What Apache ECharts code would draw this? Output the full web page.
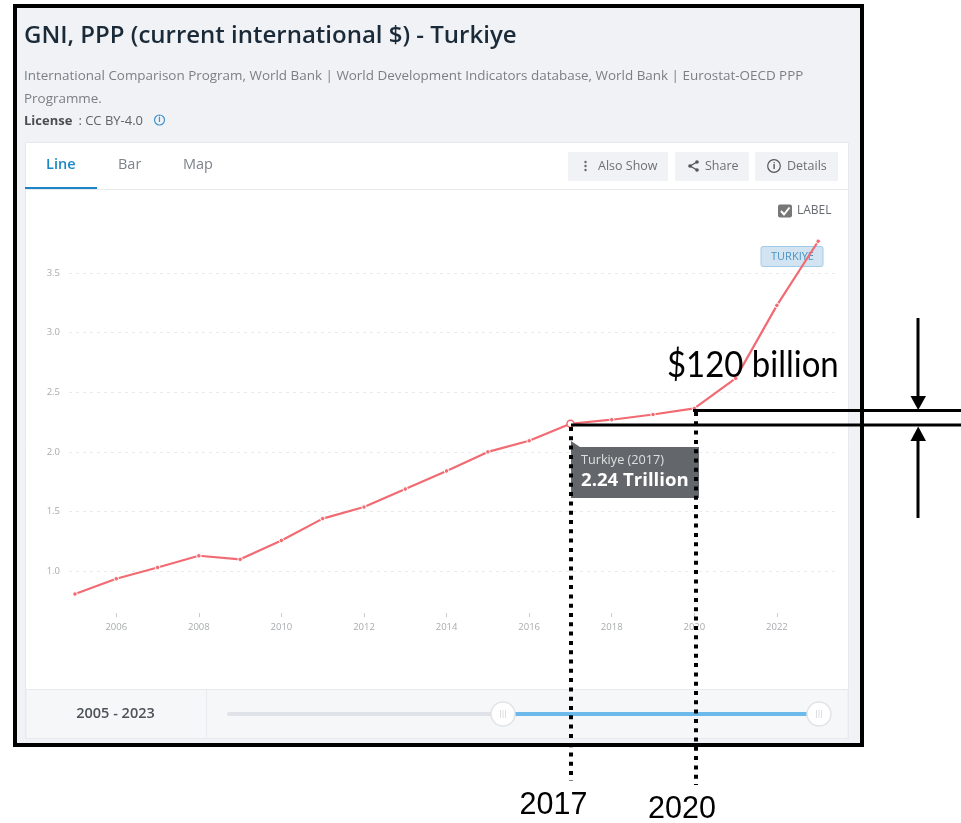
<!DOCTYPE html>
<html>
<head>
<meta charset="utf-8">
<title>GNI, PPP - Turkiye</title>
<style>html,body{margin:0;padding:0;background:#fff}#c{width:961px;height:823px}</style>
<script src="https://cdn.jsdelivr.net/npm/echarts@6/dist/echarts.min.js"></script>
</head>
<body>
<div id="c"></div>
<script>
const years = [2005,2006,2007,2008,2009,2010,2011,2012,2013,2014,2015,2016,2017,2018,2019,2020,2021,2022,2023];
const gniTrillion = [0.807,0.935,1.03,1.128,1.098,1.257,1.44,1.537,1.688,1.84,2.0,2.093,2.236,2.27,2.314,2.365,2.617,3.23,3.768];
const xTickYears = [2006,2008,2010,2012,2014,2016,2018,2020,2022];
const highlightYear = 2017;
const titleText = 'GNI, PPP (current international $) - Turkiye';
const sourceLine1 = 'International Comparison Program, World Bank | World Development Indicators database, World Bank | Eurostat-OECD PPP';
const sourceLine2 = 'Programme.';

const UI = '"Open Sans", sans-serif';
const RED = '#f26a72';

function rect(x,y,w,h,fill,stroke,r,z){
  return {type:'rect',z:z,silent:true,shape:{x:x,y:y,width:w,height:h,r:r||0},
    style:{fill:fill,stroke:stroke||null,lineWidth:stroke?1:0}};
}
function txt(s,x,y,font,fill,z,align){
  return {type:'text',z:z,silent:true,style:{text:s,x:x,y:y,font:font,fill:fill,
    textAlign:align||'left',textVerticalAlign:'middle'}};
}
function line(x1,y1,x2,y2,color,w,z,dash){
  return {type:'line',z:z,silent:true,shape:{x1:x1,y1:y1,x2:x2,y2:y2},
    style:{stroke:color,lineWidth:w,lineDash:dash||null}};
}
function poly(pts,fill,z){
  return {type:'polygon',z:z,silent:true,shape:{points:pts},style:{fill:fill}};
}
function circle(cx,cy,r,fill,stroke,w,z){
  return {type:'circle',z:z,silent:true,shape:{cx:cx,cy:cy,r:r},
    style:{fill:fill,stroke:stroke||null,lineWidth:w||0}};
}

const BG = -5;
const back = [
  rect(15,6,847,739,'#f0f2f6',null,0,BG),
  rect(25.5,142.5,823,596,'#ffffff','#e6e8ec',0,BG),
  line(26,189.5,848,189.5,'#e8eaee',1,BG),
  rect(25,187,72,2,'#1a86c8',null,0,BG),
  txt(titleText,24,36,'600 24px '+UI,'#1b2a38',BG),
  txt(sourceLine1,24,76,'13.45px '+UI,'#7a7f85',BG),
  txt(sourceLine2,24,99,'13.45px '+UI,'#7a7f85',BG),
  txt('License',24,121,'700 13px '+UI,'#4b4f54',BG),
  txt(' : CC BY-4.0',75,121,'13px '+UI,'#5e6368',BG),
  circle(159.5,120,5,null,'#3f93cf',1.2,BG),
  txt('i',159.5,120,'700 8px '+UI,'#3f93cf',BG,'center'),
  txt('Line',46,165,'600 14.5px '+UI,'#1a86c8',BG),
  txt('Bar',118,165,'14.5px '+UI,'#7d8389',BG),
  txt('Map',183,165,'14.5px '+UI,'#7d8389',BG),
  rect(568,152,100,29,'#f1f2f5',null,1,BG),
  rect(675,152,74,29,'#f1f2f5',null,1,BG),
  rect(755,152,83,29,'#f1f2f5',null,1,BG),
  circle(585.5,162,1.2,'#666',null,0,BG),
  circle(585.5,166,1.2,'#666',null,0,BG),
  circle(585.5,170,1.2,'#666',null,0,BG),
  txt('Also Show',598,166,'12.5px '+UI,'#6b7075',BG),
  line(690,166,697,162,'#555',1.4,BG),
  line(690,166,697,170,'#555',1.4,BG),
  circle(690,166,1.8,'#555',null,0,BG),
  circle(697,162,1.8,'#555',null,0,BG),
  circle(697,170,1.8,'#555',null,0,BG),
  txt('Share',705,166,'12.5px '+UI,'#6b7075',BG),
  circle(774,166,6.3,null,'#555',1.2,BG),
  txt('i',774,166,'700 9px '+UI,'#555',BG,'center'),
  txt('Details',787,166,'12.5px '+UI,'#6b7075',BG),
  rect(778,204.5,14,13,'#777777',null,2,BG),
  {type:'polyline',z:BG,silent:true,shape:{points:[[781,211],[784,214.5],[789.5,207.5]]},
    style:{stroke:'#fff',lineWidth:2,fill:null}},
  txt('LABEL',797,210.5,'12px '+UI,'#666a70',BG),
  rect(761,246.5,62,20,'#d2e4f1','#a0cbe8',2,BG),
  txt('TURKIYE',792.5,256.5,'11px '+UI,'#4c93c4',BG,'center'),
  rect(26,689.5,822,49,'#f6f7f9','#e8eaee',0,BG),
  line(206.5,690,206.5,738,'#e8eaee',1,BG),
  txt(years[0]+' - '+years[years.length-1],115.5,714,'600 14.5px '+UI,'#4d5258',BG,'center'),
  rect(227,712,276,4,'#dfe2e8',null,2,BG),
  rect(503,712,316,4,'#6cb9ec',null,0,BG),
  circle(503,714,12,'#ffffff','#e2e3e6',1.5,BG),
  circle(819,714,12,'#ffffff','#e2e3e6',1.5,BG)
];
[500.5,503,505.5,816.5,819,821.5].forEach(x => back.push(line(x,710,x,718,'#cfd1d4',0.7,BG)));

const TOP = 100;
const moneyLabel = txt('$120 billion',0,0,'36px Lato, sans-serif','#000',TOP);
moneyLabel.x = 667; moneyLabel.y = 365; moneyLabel.scaleX = 0.915;
const front = [
  poly([[571,441],[580,447],[699,447],[699,498],[571,498]],'#63666a',TOP),
  txt('Turkiye ('+highlightYear+')',581,460,'12.7px '+UI,'#dde0e2',TOP),
  txt(gniTrillion[years.indexOf(highlightYear)].toFixed(2)+' Trillion',581,481,'700 18.6px '+UI,'#ffffff',TOP),
  rect(15,6,847,739,null,'#000000',0,TOP),
  line(693,410.5,961,410.5,'#000',3,TOP),
  line(571,425,961,425,'#000',3,TOP),
  line(571,427,571,781,'#000',4,TOP,[4,5.3]),
  line(696,412,696,785,'#000',4,TOP,[4,5.3]),
  line(918,318,918,398,'#000',3,TOP),
  poly([[910.5,396],[926,396],[918.2,410]],'#000',TOP),
  line(918,518,918,440,'#000',3,TOP),
  poly([[910.5,441],[926,441],[918.2,426.5]],'#000',TOP),
  moneyLabel,
  txt('2017',553.5,806,'30.5px "Liberation Sans", sans-serif','#000',TOP,'center'),
  txt('2020',682,810,'30.5px "Liberation Sans", sans-serif','#000',TOP,'center')
];
front[3].style.lineWidth = 4;

const seriesData = years.map((y,i) => {
  const d = {value:[y,gniTrillion[i]]};
  if (y === highlightYear) {
    d.symbolSize = 7;
    d.itemStyle = {color:'#ffffff',borderColor:RED,borderWidth:1.5};
  }
  return d;
});

const chart = echarts.init(document.getElementById('c'));
chart.setOption({
  animation:false,
  backgroundColor:'#ffffff',
  grid:{left:69,right:123,top:213.6,bottom:192.4,containLabel:false},
  xAxis:{
    type:'value',
    min:2004.855,max:2023.48,
    offset:-17.5,
    axisLine:{show:false},
    splitLine:{show:false},
    axisTick:{show:true,length:4,lineStyle:{color:'#c9cbce'},customValues:xTickYears},
    axisLabel:{color:'#a9abae',fontSize:9.5,fontFamily:'"Open Sans"',margin:9,
      customValues:xTickYears,formatter:v => String(v)}
  },
  yAxis:{
    type:'value',
    min:0.5,max:4,interval:0.5,
    axisLine:{show:false},
    axisTick:{show:false},
    splitLine:{show:true,showMinLine:false,showMaxLine:false,
      lineStyle:{color:'#e9eaec',type:[3,4],width:1}},
    axisLabel:{color:'#a9abae',fontSize:9.5,fontFamily:'"Open Sans"',margin:9,
      showMinLabel:false,showMaxLabel:false,
      formatter:v => v.toFixed(1)}
  },
  series:[{
    type:'line',
    data:seriesData,
    showSymbol:true,
    showAllSymbol:true,
    symbol:'circle',
    symbolSize:4.5,
    itemStyle:{color:RED,borderColor:'#ffffff',borderWidth:1},
    lineStyle:{color:RED,width:2.2},
    z:3
  }],
  graphic:{elements:back.concat(front)}
});
</script>
</body>
</html>
